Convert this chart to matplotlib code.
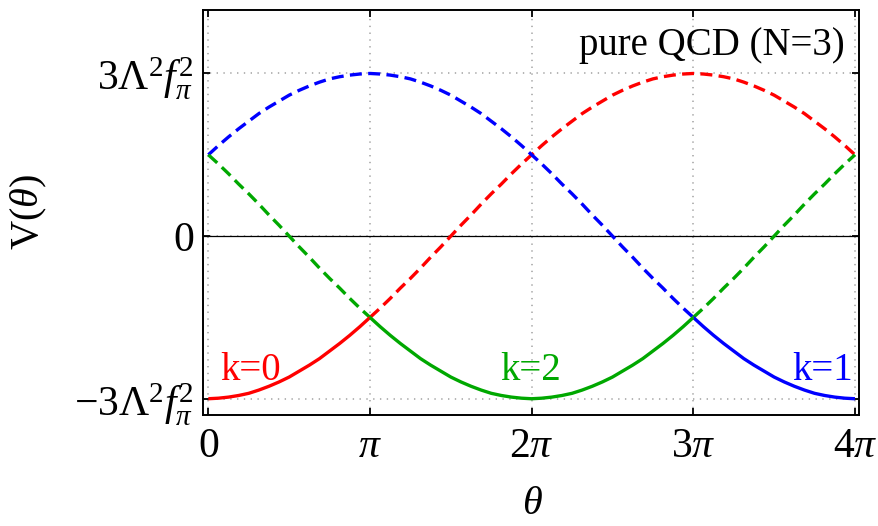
import numpy as np
import matplotlib
matplotlib.use("Agg")
import matplotlib.pyplot as plt

plt.rcParams['font.family'] = ['Liberation Serif', 'DejaVu Serif']
plt.rcParams['mathtext.fontset'] = 'custom'
plt.rcParams['mathtext.rm'] = 'Liberation Serif'
plt.rcParams['mathtext.it'] = 'Liberation Serif:italic'
plt.rcParams['mathtext.bf'] = 'Liberation Serif:bold'

# theta sampled every pi/16 from 0 to 4 pi (in units of pi)
theta_pi = [j / 16 for j in range(65)]

# V(theta) in units of Lambda^2 f_pi^2 for each branch k
v_k0 = [-3.00, -2.99, -2.97, -2.94, -2.90, -2.84, -2.77, -2.69, -2.60,
        -2.49, -2.38, -2.26, -2.12, -1.98, -1.83, -1.67, -1.50, -1.33,
        -1.15, -0.96, -0.78, -0.59, -0.39, -0.20, 0.00, 0.20, 0.39, 0.59,
        0.78, 0.96, 1.15, 1.33, 1.50, 1.67, 1.83, 1.98, 2.12, 2.26, 2.38,
        2.49, 2.60, 2.69, 2.77, 2.84, 2.90, 2.94, 2.97, 2.99, 3.00, 2.99,
        2.97, 2.94, 2.90, 2.84, 2.77, 2.69, 2.60, 2.49, 2.38, 2.26, 2.12,
        1.98, 1.83, 1.67, 1.50]
v_k1 = [1.50, 1.67, 1.83, 1.98, 2.12, 2.26, 2.38, 2.49, 2.60, 2.69, 2.77,
        2.84, 2.90, 2.94, 2.97, 2.99, 3.00, 2.99, 2.97, 2.94, 2.90, 2.84,
        2.77, 2.69, 2.60, 2.49, 2.38, 2.26, 2.12, 1.98, 1.83, 1.67, 1.50,
        1.33, 1.15, 0.96, 0.78, 0.59, 0.39, 0.20, 0.00, -0.20, -0.39, -0.59,
        -0.78, -0.96, -1.15, -1.33, -1.50, -1.67, -1.83, -1.98, -2.12,
        -2.26, -2.38, -2.49, -2.60, -2.69, -2.77, -2.84, -2.90, -2.94,
        -2.97, -2.99, -3.00]
v_k2 = [1.50, 1.33, 1.15, 0.96, 0.78, 0.59, 0.39, 0.20, 0.00, -0.20, -0.39,
        -0.59, -0.78, -0.96, -1.15, -1.33, -1.50, -1.67, -1.83, -1.98,
        -2.12, -2.26, -2.38, -2.49, -2.60, -2.69, -2.77, -2.84, -2.90,
        -2.94, -2.97, -2.99, -3.00, -2.99, -2.97, -2.94, -2.90, -2.84,
        -2.77, -2.69, -2.60, -2.49, -2.38, -2.26, -2.12, -1.98, -1.83,
        -1.67, -1.50, -1.33, -1.15, -0.96, -0.78, -0.59, -0.39, -0.20,
        0.00, 0.20, 0.39, 0.59, 0.78, 0.96, 1.15, 1.33, 1.50]

# index range (start, stop) where each branch is the true vacuum,
# and label position (theta / pi, V)
branches = [
    ("k=0", v_k0, "#ff0000", (0, 16), (0.26, -2.66)),
    ("k=1", v_k1, "#0000ff", (48, 64), (3.80, -2.66)),
    ("k=2", v_k2, "#00a800", (16, 48), (1.995, -2.66)),
]

y_ticks = [-3, 0, 3]
y_tick_labels = [r"$-3\Lambda^2 f_\pi^2$", "0", r"$3\Lambda^2 f_\pi^2$"]
x_ticks = [0, 1, 2, 3, 4]
x_tick_labels = ["0", r"$\pi$", r"$2\pi$", r"$3\pi$", r"$4\pi$"]

W, H = 879, 526
fig = plt.figure(figsize=(W / 100, H / 100), dpi=100)
ax = fig.add_axes([203.5 / W, 1 - 415 / H, 655.5 / W, 405.5 / H])

x = np.array(theta_pi) * np.pi
lw = 2.4
dash = (0, (3.6, 1.9))
for name, v, color, (a, b), (lx, ly) in branches:
    v = np.array(v)
    # dashed where metastable, solid where it is the minimum
    if a > 0:
        ax.plot(x[:a + 1], v[:a + 1], color=color, lw=lw, ls=dash, zorder=3)
    if b < len(v) - 1:
        ax.plot(x[b:], v[b:], color=color, lw=lw, ls=dash, zorder=3)
    ax.plot(x[a:b + 1], v[a:b + 1], color=color, lw=lw, zorder=4,
            solid_capstyle='butt', solid_joinstyle='round')
    ax.text(lx * np.pi, ly, name, color=color, fontsize=28, ha='center',
            va='baseline')

ax.axhline(0, color='black', lw=0.9, zorder=2)

grid_kw = dict(color='#b4b4b4', lw=1.4, ls=(0, (0.7, 2.8)), zorder=1)
for t in x_ticks:
    ax.axvline(t * np.pi, **grid_kw)
for t in y_ticks:
    ax.axhline(t, **grid_kw)

ax.set_xlim(-0.03 * np.pi, 4.025 * np.pi)
ax.set_ylim(-3.30, 4.18)
ax.set_xticks(np.array(x_ticks) * np.pi)
ax.set_xticklabels(x_tick_labels)
ax.set_yticks(y_ticks)
ax.set_yticklabels(y_tick_labels)
ax.tick_params(direction='in', length=5, width=1.3, labelsize=30,
               top=True, right=True, pad=7)
ax.tick_params(axis='x', pad=9)
for s in ax.spines.values():
    s.set_linewidth(1.4)

ax.text((845 - 203.5) / 655.5, (415 - 55) / 405.5,
        "pure QCD (N=3)", transform=ax.transAxes, fontsize=28,
        ha='right', va='baseline')

fig.text(28.5 / W, 1 - 212 / H, r"V($\theta$)", fontsize=29, rotation=90,
         ha='center', va='center')
fig.text(532 / W, 1 - 505 / H, r"$\theta$", fontsize=29,
         ha='center', va='center')

fig.savefig("out.png", dpi=100)
